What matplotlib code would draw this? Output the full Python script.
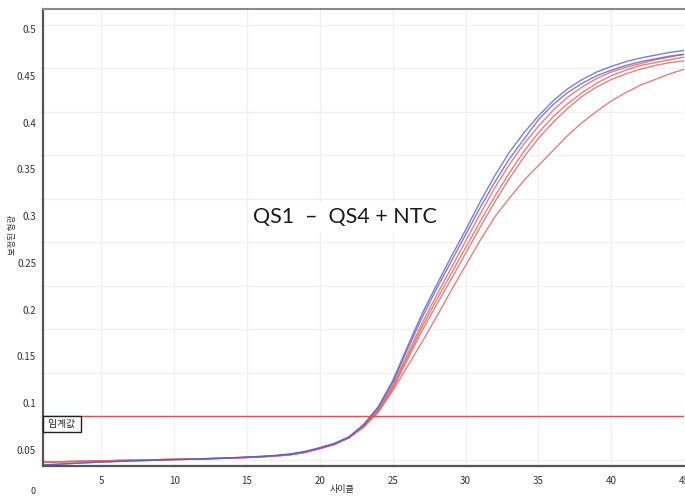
import matplotlib
matplotlib.use("Agg")
import matplotlib.pyplot as plt
import numpy as np

plt.rcParams['font.family'] = ['Noto Sans CJK KR', 'DejaVu Sans']

# cycles 1..45
cycles = list(range(1, 46))

# early (cycles 1-22) baselines
base_blue = [0.034, 0.0348, 0.0356, 0.0364, 0.0371, 0.0377, 0.0382, 0.0387, 0.0392, 0.0396, 0.0400,
             0.0405, 0.0410, 0.0417, 0.0424, 0.0432, 0.0442, 0.0457, 0.0484, 0.0524, 0.0570, 0.0640]
base_red = [0.0370, 0.0373, 0.0377, 0.0380, 0.0383, 0.0387, 0.0390, 0.0393, 0.0397, 0.0400, 0.0403,
            0.0407, 0.0410, 0.0415, 0.0420, 0.0427, 0.0437, 0.0450, 0.0475, 0.0515, 0.0560, 0.0630]

# cycles 23..45
blue1_late = [0.077, 0.096, 0.124, 0.160, 0.195, 0.226, 0.256, 0.285, 0.315, 0.343, 0.368, 0.389,
              0.407, 0.423, 0.436, 0.446, 0.454, 0.460, 0.465, 0.469, 0.472, 0.475, 0.477]
blue2_late = [0.077, 0.095, 0.122, 0.157, 0.191, 0.222, 0.251, 0.280, 0.309, 0.336, 0.361, 0.382,
              0.403, 0.419, 0.432, 0.442, 0.450, 0.456, 0.461, 0.465, 0.468, 0.471, 0.473]
red1_late = [0.076, 0.093, 0.119, 0.152, 0.185, 0.215, 0.244, 0.273, 0.302, 0.330, 0.355, 0.377,
             0.396, 0.413, 0.427, 0.438, 0.447, 0.454, 0.459, 0.463, 0.467, 0.470, 0.473]
red2_late = [0.075, 0.092, 0.117, 0.149, 0.181, 0.210, 0.238, 0.266, 0.294, 0.321, 0.346, 0.369,
             0.389, 0.406, 0.420, 0.432, 0.442, 0.450, 0.456, 0.461, 0.464, 0.467, 0.470]
red3_late = [0.075, 0.091, 0.115, 0.146, 0.177, 0.205, 0.232, 0.260, 0.288, 0.315, 0.340, 0.363,
             0.383, 0.400, 0.415, 0.428, 0.438, 0.446, 0.452, 0.457, 0.461, 0.464, 0.466]
red4_late = [0.074, 0.090, 0.113, 0.139, 0.165, 0.192, 0.220, 0.247, 0.274, 0.299, 0.319, 0.338,
             0.354, 0.370, 0.386, 0.400, 0.412, 0.423, 0.432, 0.440, 0.446, 0.452, 0.457]

blue_curves = [base_blue + blue1_late, base_blue + blue2_late]
red_curves = [base_red + red1_late, base_red + red2_late, base_red + red3_late, base_red + red4_late]

threshold = 0.0863
ytick_vals = [0.05, 0.1, 0.15, 0.2, 0.25, 0.3, 0.35, 0.4, 0.45, 0.5]
ytick_labels = ['0.05', '0.1', '0.15', '0.2', '0.25', '0.3', '0.35', '0.4', '0.45', '0.5']
xtick_vals = [5, 10, 15, 20, 25, 30, 35, 40, 45]
grid_y = [0.0393, 0.0858, 0.1323, 0.1788, 0.2253, 0.2718, 0.3183, 0.3648, 0.4113, 0.4578, 0.5043]

fig = plt.figure(figsize=(6.85, 4.97), dpi=100)
ax = fig.add_axes([0.0628, 0.0624, 0.9358, 0.9195])

for c in red_curves:
    ax.plot(cycles, c, color='#e06a6a', lw=1.0, alpha=0.85)
for c in blue_curves:
    ax.plot(cycles, c, color='#5b5fc4', lw=1.0, alpha=0.8)

ax.axhline(threshold, color='#e05050', lw=1)

ax.set_xlim(1, 45)
ax.set_ylim(0.0329, 0.5214)
ax.set_xticks(xtick_vals)
ax.set_yticks(ytick_vals)
ax.set_yticklabels(ytick_labels)
ax.set_yticks(grid_y, minor=True)
ax.tick_params(axis='both', which='major', labelsize=7, colors='#333333', length=0)
ax.tick_params(axis='x', pad=7)
ax.tick_params(axis='y', pad=5)
ax.tick_params(axis='y', which='minor', length=3, color='#ececec', width=1)

ax.xaxis.grid(True, color='#f0f0f0', lw=1)
ax.yaxis.grid(True, which='minor', color='#f0f0f0', lw=1)
ax.set_axisbelow(True)

for s in ['left', 'bottom']:
    ax.spines[s].set_color('#555555')
    ax.spines[s].set_linewidth(1.6)
ax.spines['top'].set_color('#8a8a8a')
ax.spines['top'].set_linewidth(1.5)
ax.spines['right'].set_visible(False)

ax.set_xlabel('사이클', fontsize=6.5, color='#333333')
ax.xaxis.set_label_coords(0.466, -0.041)
ax.set_ylabel('보정된 형광', fontsize=6, color='#333333')
ax.yaxis.set_label_coords(-0.040, 0.505)

ax.text(-0.012, -0.056, '0', transform=ax.transAxes, fontsize=6.5, color='#333333',
        ha='right', va='center', clip_on=False)

ax.text(0.0296, 0.092, ' 임계값 ', transform=ax.transAxes, fontsize=7, color='#222222',
        ha='center', va='center', clip_on=False,
        bbox=dict(boxstyle='square,pad=0.3', fc='white', ec='#222222', lw=1))

ax.text(0.328, 0.545, 'QS1  –  QS4 + NTC', transform=ax.transAxes, fontsize=15.5,
        family=['Lato', 'DejaVu Sans'], color='#1a1a1a', ha='left', va='center',
        bbox=dict(boxstyle='square,pad=0.25', fc='white', ec='none'))

fig.savefig('out.png', dpi=100)
